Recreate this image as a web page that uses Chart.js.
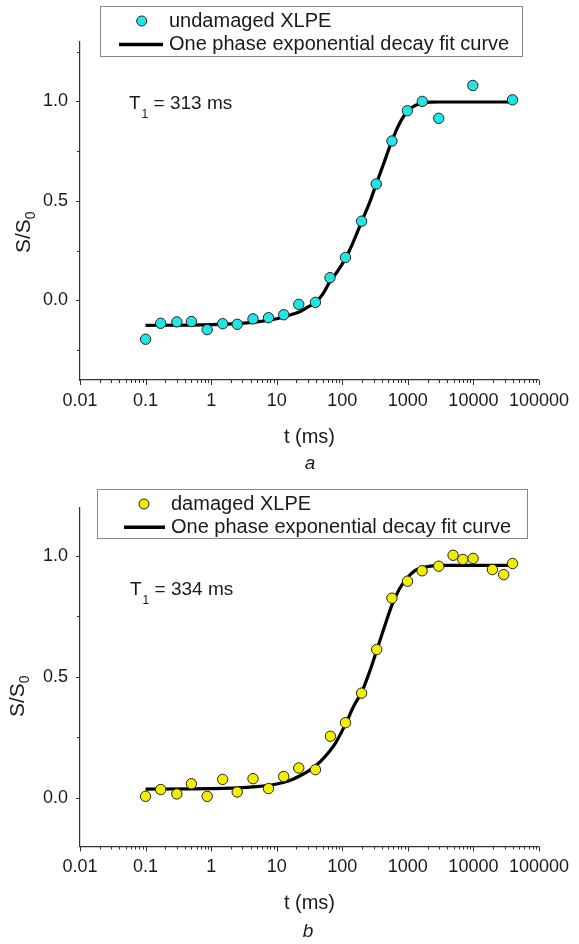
<!DOCTYPE html>
<html>
<head>
<meta charset="utf-8">
<script src="https://cdn.jsdelivr.net/npm/chart.js@4"></script>
<style>
  body { margin: 0; background: #fff; width: 579px; height: 944px; position: relative; overflow: hidden; }
  .panel { position: absolute; left: 0; width: 579px; }
</style>
</head>
<body>
<div class="panel" style="top:0;height:470px"><canvas id="chartA" width="579" height="470"></canvas></div>
<div class="panel" style="top:470px;height:474px"><canvas id="chartB" width="579" height="474"></canvas></div>
<script>
// x axis tick labels (decades)
const tickLabels = ["0.01", "0.1", "1", "10", "100", "1000", "10000", "100000"];

// a: undamaged XLPE
const tA = [0.1, 0.17, 0.3, 0.5, 0.87, 1.5, 2.5, 4.35, 7.5, 12.8, 21.7, 39, 65, 112, 197, 330, 572, 985, 1660, 2960, 9800, 39500];
const sA = [-0.195, -0.115, -0.108, -0.106, -0.147, -0.117, -0.12, -0.093, -0.087, -0.072, -0.02, -0.01, 0.114, 0.216, 0.398, 0.585, 0.801, 0.953, 1.0, 0.915, 1.08, 1.008];
const fitTA = [0.1, 0.5, 1, 2, 5, 10, 15, 22, 30, 40, 50, 65, 80, 112, 150, 200, 260, 330, 420, 570, 750, 980, 1300, 1650, 2200, 3000, 10000, 40000];
const fitA = [-0.125, -0.124, -0.122, -0.118, -0.108, -0.092, -0.076, -0.058, -0.033, -0.008, 0.03, 0.095, 0.135, 0.21, 0.3, 0.4, 0.49, 0.585, 0.68, 0.8, 0.89, 0.95, 0.98, 0.99, 0.996, 0.997, 0.997, 0.997];

// b: damaged XLPE
const tB = [0.1, 0.17, 0.3, 0.5, 0.87, 1.5, 2.5, 4.35, 7.5, 12.8, 21.7, 39, 66, 112, 197, 335, 572, 990, 1650, 2960, 4900, 6900, 9900, 19500, 29000, 39500];
const sB = [0.007, 0.035, 0.017, 0.059, 0.007, 0.077, 0.025, 0.08, 0.039, 0.089, 0.124, 0.117, 0.255, 0.311, 0.433, 0.613, 0.825, 0.895, 0.938, 0.957, 1.002, 0.985, 0.989, 0.943, 0.922, 0.968];
const fitTB = [0.1, 0.5, 1, 2, 5, 10, 15, 22, 30, 40, 50, 65, 80, 112, 150, 200, 260, 336, 420, 570, 750, 990, 1300, 1650, 2200, 3000, 10000, 40000];
const fitB = [0.037, 0.038, 0.039, 0.041, 0.047, 0.058, 0.07, 0.09, 0.11, 0.135, 0.16, 0.195, 0.23, 0.305, 0.38, 0.44, 0.52, 0.61, 0.69, 0.795, 0.865, 0.91, 0.94, 0.95, 0.957, 0.96, 0.96, 0.96];

const FONT = "'Liberation Sans', Arial, sans-serif";
const INK = "#1a1a1a";
const AXIS = "#333";

function pts(xs, ys) {
    return xs.map((x, i) => ({ x: x, y: ys[i] }));
}

// minor/major tick marks, legend box, T1 note, y title and caption
function decor(cfg) {
    return {
        id: "decor",
        afterDraw(chart) {
            const ctx = chart.ctx;
            const x = chart.scales.x, y = chart.scales.y;
            ctx.save();
            ctx.strokeStyle = AXIS;
            ctx.lineWidth = 1;
            ctx.beginPath();
            for (let e = -2; e <= 5; e++) {
                for (let m = 1; m <= 9; m++) {
                    const v = m * Math.pow(10, e);
                    if (v > x.max * 1.0001) break;
                    const px = Math.round(x.getPixelForValue(v)) + 0.5;
                    const len = m === 1 ? 5 : 3;
                    ctx.moveTo(px, x.top);
                    ctx.lineTo(px, x.top + len);
                }
            }
            for (let v = -0.5; v <= 1.5; v += 0.25) {
                if (v < y.min - 1e-6 || v > y.max + 1e-6) continue;
                const py = Math.round(y.getPixelForValue(v)) + 0.5;
                const len = Math.abs(v * 2 - Math.round(v * 2)) < 1e-6 ? 4 : 3;
                ctx.moveTo(y.right, py);
                ctx.lineTo(y.right - len, py);
            }
            ctx.stroke();

            // legend box
            const L = cfg.legend;
            ctx.fillStyle = "#fff";
            ctx.fillRect(L.x1, L.y1, L.x2 - L.x1, L.y2 - L.y1);
            ctx.strokeStyle = "#888";
            ctx.strokeRect(L.x1 + 0.5, L.y1 + 0.5, L.x2 - L.x1, L.y2 - L.y1);
            ctx.beginPath();
            ctx.arc(L.markerX, L.row1, 5, 0, Math.PI * 2);
            ctx.fillStyle = cfg.fill;
            ctx.fill();
            ctx.strokeStyle = "#222";
            ctx.stroke();
            ctx.beginPath();
            ctx.moveTo(L.lineX1, L.row2);
            ctx.lineTo(L.lineX2, L.row2);
            ctx.lineWidth = 3.5;
            ctx.strokeStyle = "#000";
            ctx.stroke();
            ctx.fillStyle = INK;
            ctx.font = "20px " + FONT;
            ctx.textBaseline = "middle";
            ctx.textAlign = "left";
            ctx.fillText(cfg.seriesLabel, L.textX, L.row1);
            ctx.fillText("One phase exponential decay fit curve", L.textX, L.row2);

            // T1 note
            const T = cfg.t1;
            ctx.textBaseline = "alphabetic";
            ctx.font = "19px " + FONT;
            ctx.fillText("T", T.x, T.y);
            let cx = T.x + ctx.measureText("T").width + 1;
            ctx.font = "12px " + FONT;
            ctx.fillText("1", cx, T.y + 9);
            cx += ctx.measureText("1").width;
            ctx.font = "19px " + FONT;
            ctx.fillText(" = " + T.value + " ms", cx, T.y);

            // y title S/S0
            const Y = cfg.yTitle;
            ctx.save();
            ctx.translate(Y.x, Y.y);
            ctx.rotate(-Math.PI / 2);
            ctx.font = "21px " + FONT;
            ctx.fillText("S/S", 0, 0);
            const w = ctx.measureText("S/S").width;
            ctx.font = "14px " + FONT;
            ctx.fillText("0", w, 5);
            ctx.restore();

            // caption
            ctx.font = "italic 19px " + FONT;
            ctx.textAlign = "center";
            ctx.textBaseline = "middle";
            ctx.fillText(cfg.caption.text, cfg.caption.x, cfg.caption.y);
            ctx.restore();
        }
    };
}

function makeChart(id, cfg) {
    return new Chart(document.getElementById(id), {
        type: "scatter",
        data: {
            datasets: [
                {
                    data: pts(cfg.t, cfg.s),
                    backgroundColor: cfg.fill,
                    borderColor: "#222",
                    borderWidth: 1,
                    pointRadius: 5.2
                },
                {
                    data: pts(cfg.fitT, cfg.fit),
                    showLine: true,
                    borderColor: "#000",
                    borderWidth: 3.2,
                    pointRadius: 0,
                    cubicInterpolationMode: "monotone"
                }
            ]
        },
        options: {
            responsive: false,
            animation: false,
            layout: { padding: { top: cfg.top, right: 34, bottom: 0, left: 0 } },
            plugins: { legend: { display: false }, tooltip: { enabled: false } },
            scales: {
                x: {
                    type: "logarithmic",
                    min: 0.01,
                    max: 100000,
                    afterBuildTicks: s => { s.ticks = tickLabels.map(v => ({ value: Number(v) })); },
                    afterFit: s => { s.height = cfg.xHeight; },
                    grid: { display: true, drawOnChartArea: false, drawTicks: false },
                    border: { display: true, color: AXIS, width: 1.2 },
                    ticks: {
                        autoSkip: false,
                        maxRotation: 0,
                        padding: 10,
                        color: INK,
                        font: { family: FONT, size: 18 },
                        callback: (v, i) => tickLabels[i]
                    },
                    title: {
                        display: true,
                        text: "t (ms)",
                        color: INK,
                        font: { family: FONT, size: 20 },
                        padding: { top: 0, bottom: cfg.titlePad }
                    }
                },
                y: {
                    min: cfg.yMin,
                    max: cfg.yMax,
                    afterBuildTicks: s => { s.ticks = [0, 0.5, 1].map(v => ({ value: v })); },
                    afterFit: s => { s.width = 80; },
                    grid: { display: true, drawOnChartArea: false, drawTicks: false },
                    border: { display: true, color: AXIS, width: 1.2 },
                    ticks: {
                        padding: 12,
                        color: INK,
                        font: { family: FONT, size: 18 },
                        callback: v => v.toFixed(1)
                    }
                }
            }
        },
        plugins: [decor(cfg)]
    });
}

makeChart("chartA", {
    t: tA, s: sA, fitT: fitTA, fit: fitA,
    fill: "#22e4e4",
    seriesLabel: "undamaged XLPE",
    yMin: -0.4, yMax: 1.3,
    top: 41.7, xHeight: 90, titlePad: 21,
    legend: { x1: 100, y1: 6, x2: 522, y2: 56, markerX: 141.7, row1: 21, row2: 44.5, lineX1: 119, lineX2: 163, textX: 169 },
    t1: { x: 129, y: 108.5, value: "313" },
    yTitle: { x: 29.5, y: 253 },
    caption: { text: "a", x: 310, y: 464 }
});

makeChart("chartB", {
    t: tB, s: sB, fitT: fitTB, fit: fitB,
    fill: "#f2ee00",
    seriesLabel: "damaged XLPE",
    yMin: -0.2, yMax: 1.2,
    top: 37.3, xHeight: 97.5, titlePad: 29,
    legend: { x1: 97, y1: 19, x2: 527, y2: 68, markerX: 144, row1: 34, row2: 57.3, lineX1: 124, lineX2: 165, textX: 171 },
    t1: { x: 130, y: 125, value: "334" },
    yTitle: { x: 24, y: 247 },
    caption: { text: "b", x: 308, y: 462 }
});
</script>
</body>
</html>
